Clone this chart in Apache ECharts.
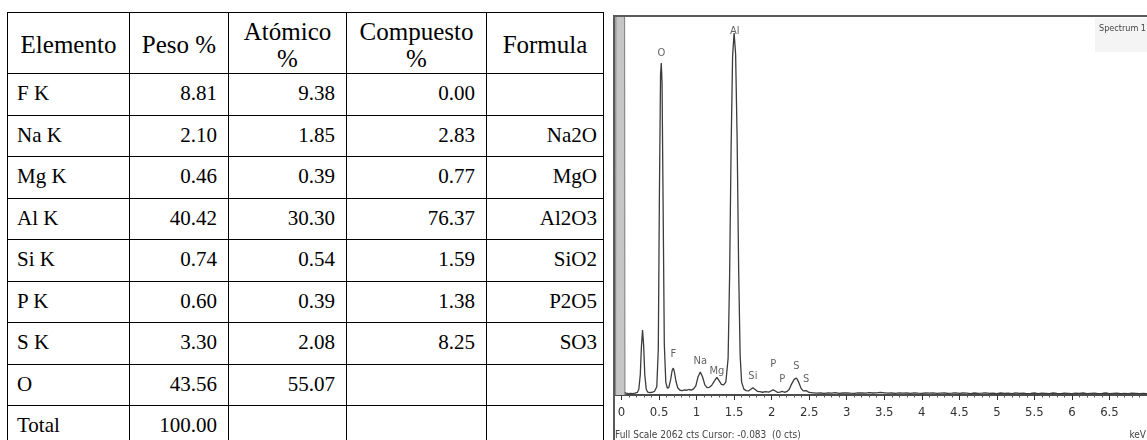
<!DOCTYPE html>
<html>
<head>
<meta charset="utf-8">
<script src="https://cdn.jsdelivr.net/npm/echarts@6/dist/echarts.min.js"></script>
<style>
  html, body { margin: 0; padding: 0; background: #fff; width: 1147px; height: 440px; overflow: hidden; }
  #chart { position: absolute; left: 0; top: 0; width: 1147px; height: 440px; will-change: transform; }
  #tbl {
    position: absolute; left: 7px; top: 12px; z-index: 2;
    border-collapse: collapse; table-layout: fixed;
    font-family: "Liberation Serif", "Times New Roman", serif; color: #000;
    background: #fff;
  }
  #tbl td { border: 1.5px solid #000; padding: 0; overflow: hidden; white-space: nowrap; }
  #tbl tr.head { height: 61px; }
  #tbl tr.head td { font-size: 25px; text-align: center; vertical-align: middle; line-height: 27px; padding-top: 3px; }
  #tbl tr.row { height: 41.5px; }
  #tbl tr.row td { font-size: 21px; vertical-align: top; line-height: 24px; padding-top: 7px; }
  #tbl tr.row td.name { text-align: left; padding-left: 9px; }
  #tbl tr.row td.num { text-align: right; padding-right: 11px; }
  #tbl tr.row td.form { text-align: right; padding-right: 6px; }
</style>
</head>
<body>
<div id="chart"></div>
<table id="tbl"></table>
<script>
// ---- composition table ----
const headers = ['Elemento', 'Peso %', 'Atómico<br>%', 'Compuesto<br>%', 'Formula'];
const elements = ['F K', 'Na K', 'Mg K', 'Al K', 'Si K', 'P K', 'S K', 'O', 'Total'];
const pesoPct = ['8.81', '2.10', '0.46', '40.42', '0.74', '0.60', '3.30', '43.56', '100.00'];
const atomicoPct = ['9.38', '1.85', '0.39', '30.30', '0.54', '0.39', '2.08', '55.07', ''];
const compuestoPct = ['0.00', '2.83', '0.77', '76.37', '1.59', '1.38', '8.25', '', ''];
const formulas = ['', 'Na2O', 'MgO', 'Al2O3', 'SiO2', 'P2O5', 'SO3', '', ''];
const colWidths = [122, 99, 118, 140, 117];

// ---- EDS spectrum ----
const tickValues = [0, 0.5, 1, 1.5, 2, 2.5, 3, 3.5, 4, 4.5, 5, 5.5, 6, 6.5];
const minorTickValues = [0.1, 0.2, 0.3, 0.4, 0.6, 0.7, 0.8, 0.9, 1.1, 1.2, 1.3, 1.4, 1.6, 1.7, 1.8, 1.9,
  2.1, 2.2, 2.3, 2.4, 2.6, 2.7, 2.8, 2.9, 3.1, 3.2, 3.3, 3.4, 3.6, 3.7, 3.8, 3.9,
  4.1, 4.2, 4.3, 4.4, 4.6, 4.7, 4.8, 4.9, 5.1, 5.2, 5.3, 5.4, 5.6, 5.7, 5.8, 5.9,
  6.1, 6.2, 6.3, 6.4, 6.6, 6.7, 6.8, 6.9];
const fullScaleCts = 2062;

// noise peak at zero energy (runs off scale)
const zeroPeakEnergy = [-0.08, -0.075, 0.04, 0.045];
const zeroPeakCounts = [0, 2400, 2400, 0];

const spectrumEnergy = [
  0.045, 0.06, 0.09, 0.12, 0.15, 0.18, 0.21, 0.23, 0.25, 0.265, 0.28, 0.295, 0.31, 0.33, 0.35, 0.38,
  0.41, 0.44, 0.47, 0.49, 0.505, 0.52, 0.53, 0.54, 0.555, 0.57, 0.59, 0.61, 0.63, 0.655, 0.675, 0.69,
  0.705, 0.725, 0.75, 0.78, 0.81, 0.84, 0.87, 0.90, 0.93, 0.96, 0.99, 1.02, 1.05, 1.08, 1.11, 1.14,
  1.17, 1.20, 1.23, 1.27, 1.30, 1.33, 1.36, 1.39, 1.42, 1.44, 1.46, 1.48, 1.50, 1.52, 1.54, 1.56,
  1.58, 1.60, 1.63, 1.66, 1.69, 1.72, 1.75, 1.78, 1.81, 1.84, 1.88, 1.92, 1.96, 1.99, 2.02, 2.05,
  2.08, 2.11, 2.14, 2.17, 2.20, 2.23, 2.26, 2.30, 2.33, 2.36, 2.39, 2.42, 2.46, 2.50,
  2.55, 2.60, 2.65, 2.70, 2.75, 2.80, 2.85, 2.90, 2.95, 3.00, 3.05, 3.10, 3.15, 3.20, 3.25, 3.30,
  3.35, 3.40, 3.45, 3.50, 3.55, 3.60, 3.65, 3.70, 3.75, 3.80, 3.85, 3.90, 3.95, 4.00, 4.05, 4.10,
  4.15, 4.20, 4.25, 4.30, 4.35, 4.40, 4.45, 4.50, 4.55, 4.60, 4.65, 4.70, 4.75, 4.80, 4.85, 4.90,
  4.95, 5.00, 5.05, 5.10, 5.15, 5.20, 5.25, 5.30, 5.35, 5.40, 5.45, 5.50, 5.55, 5.60, 5.65, 5.70,
  5.75, 5.80, 5.85, 5.90, 5.95, 6.00, 6.05, 6.10, 6.15, 6.20, 6.25, 6.30, 6.35, 6.40, 6.45, 6.50,
  6.55, 6.60, 6.65, 6.70, 6.75, 6.80, 6.85, 6.90, 6.95, 7.00
];
const spectrumCounts = [
  14, 10, 8, 9, 8, 10, 14, 30, 110, 260, 355, 270, 110, 30, 16, 13,
  15, 20, 45, 250, 1100, 1750, 1811, 1700, 1000, 280, 70, 38, 40, 85, 135, 147,
  125, 75, 38, 26, 24, 28, 26, 30, 27, 33, 50, 100, 125, 98, 55, 40,
  42, 52, 72, 96, 78, 58, 55, 70, 200, 650, 1350, 1850, 1975, 1860, 1400, 700,
  220, 70, 32, 24, 22, 30, 40, 30, 20, 18, 15, 18, 16, 22, 28, 22,
  14, 16, 20, 15, 18, 28, 55, 85, 93, 70, 38, 22, 24, 14,
  12, 10, 11, 9, 12, 10, 13, 9, 11, 12, 10, 9, 12, 11, 10, 13,
  11, 12, 14, 12, 10, 11, 9, 12, 10, 11, 9, 12, 10, 9, 11, 10,
  12, 9, 10, 11, 9, 10, 12, 9, 11, 10, 8, 11, 9, 10, 12, 9,
  10, 8, 11, 9, 10, 8, 11, 9, 10, 8, 9, 11, 8, 10, 9, 8,
  11, 9, 8, 10, 9, 8, 10, 9, 11, 8, 9, 10, 8, 9, 11, 8,
  9, 10, 8, 9, 8, 10, 9, 8, 9, 8
];

// element line markers
const peakNames = ['O', 'F', 'Na', 'Mg', 'Al', 'Si', 'P', 'P', 'S', 'S'];
const peakEnergy = [0.53, 0.69, 1.05, 1.27, 1.51, 1.75, 2.02, 2.14, 2.33, 2.46];
const peakLabelCounts = [1871, 229, 191, 136, 1991, 109, 175, 93, 164, 93];

// build the table
(function buildTable() {
  const t = document.getElementById('tbl');
  const cg = document.createElement('colgroup');
  colWidths.forEach(w => { const c = document.createElement('col'); c.style.width = w + 'px'; cg.appendChild(c); });
  t.appendChild(cg);
  const h = document.createElement('tr');
  h.className = 'head';
  headers.forEach(txt => { const td = document.createElement('td'); td.innerHTML = txt; h.appendChild(td); });
  t.appendChild(h);
  elements.forEach((el, i) => {
    const tr = document.createElement('tr');
    tr.className = 'row';
    const cells = [[el, 'name'], [pesoPct[i], 'num'], [atomicoPct[i], 'num'], [compuestoPct[i], 'num'], [formulas[i], 'form']];
    cells.forEach(([txt, cls]) => { const td = document.createElement('td'); td.className = cls; td.textContent = txt; tr.appendChild(td); });
    t.appendChild(tr);
  });
})();

const narrow = '"Liberation Sans Narrow", "DejaVu Sans Condensed", "Liberation Sans", sans-serif';
const zip = (xs, ys) => xs.map((x, i) => [x, ys[i]]);

const chart = echarts.init(document.getElementById('chart'), null, { renderer: 'svg' });
chart.setOption({
  animation: false,
  backgroundColor: '#fff',
  grid: { left: 614, top: 17, right: 0, bottom: 45 },
  xAxis: [
    {
      type: 'value', min: -0.1, max: 7.0,
      axisLine: { lineStyle: { color: '#111', width: 1.6 } },
      axisTick: { customValues: tickValues, length: 5, lineStyle: { color: '#333', width: 1 } },
      axisLabel: { customValues: tickValues, margin: 10, fontSize: 13, fontFamily: narrow, color: '#333' },
      splitLine: { show: false }
    },
    {
      type: 'value', min: -0.1, max: 7.0, position: 'bottom',
      axisLine: { show: false },
      axisTick: { customValues: minorTickValues, length: 2.5, lineStyle: { color: '#555', width: 1 } },
      axisLabel: { show: false },
      splitLine: { show: false }
    }
  ],
  yAxis: { type: 'value', min: 0, max: fullScaleCts, show: false },
  series: [
    {
      type: 'line', name: 'zero', data: zip(zeroPeakEnergy, zeroPeakCounts),
      symbol: 'none', clip: true,
      lineStyle: { color: '#8a8a8a', width: 1.2 },
      areaStyle: { color: '#c6c6c6', opacity: 1 }
    },
    {
      type: 'line', name: 'spectrum', data: zip(spectrumEnergy, spectrumCounts),
      symbol: 'none', clip: true,
      lineStyle: { color: '#3c3c3c', width: 1.3 }
    },
    {
      type: 'scatter', name: 'lines', symbol: 'circle', symbolSize: 0,
      itemStyle: { color: '#444' },
      data: peakNames.map((n, i) => ({ name: n, value: [peakEnergy[i], peakLabelCounts[i]] })),
      label: {
        show: true, position: 'top', distance: -6, formatter: '{b}',
        fontSize: 11, fontFamily: narrow, color: '#3a3a3a', textBorderWidth: 0
      }
    }
  ],
  graphic: [
    { type: 'rect', z: 0, shape: { x: 1095, y: 18, width: 60, height: 34 }, style: { fill: '#f4f4f4' } },
    { type: 'text', z: 5, x: 1146, y: 23, style: { text: 'Spectrum 1', font: '9px ' + narrow, fill: '#444', align: 'right' } },
    { type: 'text', z: 5, x: 615, y: 429, style: { text: 'Full Scale 2062 cts Cursor: -0.083  (0 cts)', font: '10px ' + narrow, fill: '#444' } },
    { type: 'text', z: 5, x: 1146, y: 429, style: { text: 'keV', font: '10px ' + narrow, fill: '#444', align: 'right' } },
    { type: 'rect', z: 10, shape: { x: 614, y: 16, width: 600, height: 500 }, style: { fill: 'none', stroke: '#5a5a5a', lineWidth: 2 } }
  ]
});
</script>
</body>
</html>
